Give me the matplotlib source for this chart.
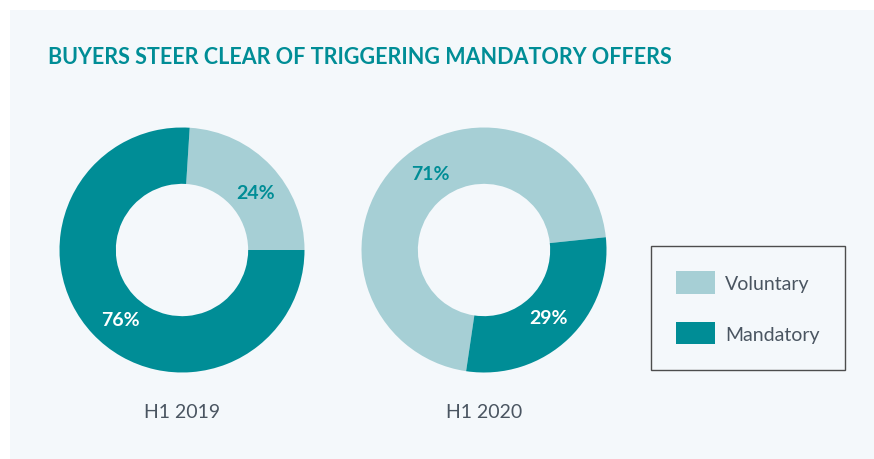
import numpy as np
import matplotlib.pyplot as plt
from matplotlib.patches import Rectangle

# --- data ---
periods = ["H1 2019", "H1 2020"]
offer_types = ["Voluntary", "Mandatory"]
voluntary = [24, 71]
mandatory = [76, 29]
start_angles = [0, 6]  # where the voluntary slice begins (degrees)

# --- style ---
teal = "#008d96"
light = "#a6cfd5"
panel = "#f4f8fb"
grey_text = "#4a5561"
# small nudges of the % labels away from the slice mid-angle (degrees)
label_nudge = [[-5, 5], [-9, 0]]
plt.rcParams["font.family"] = ["Lato", "DejaVu Sans"]

W, H = 874, 460
fig = plt.figure(figsize=(W / 100, H / 100), dpi=100)
fig.patch.set_facecolor("white")

# light background panel
fig.patches.append(Rectangle((10 / W, 0), 1 - 10 / W, 1 - 11 / H,
                             transform=fig.transFigure, facecolor=panel,
                             edgecolor="none", zorder=-5))

fig.text(48 / W, 1 - 57 / H, "BUYERS STEER CLEAR OF TRIGGERING MANDATORY OFFERS",
         color=teal, fontsize=15.5, fontweight="bold", va="center", ha="left")

centers_x = [182, 484]
center_y = 251
radius_px = 122.5
wedges_first = None

for i, period in enumerate(periods):
    cx = centers_x[i]
    ax = fig.add_axes([(cx - radius_px) / W, (H - center_y - radius_px) / H,
                       2 * radius_px / W, 2 * radius_px / H])
    ax.set_facecolor("none")
    vals = [voluntary[i], mandatory[i]]
    wedges, _ = ax.pie(vals, colors=[light, teal], startangle=start_angles[i],
                       counterclock=True, radius=1,
                       wedgeprops=dict(width=0.46, edgecolor="none"))
    if wedges_first is None:
        wedges_first = wedges
    for j, (w, v, c) in enumerate(zip(wedges, vals, [teal, "white"])):
        mid = np.deg2rad((w.theta1 + w.theta2) / 2 + label_nudge[i][j])
        ax.text(0.76 * np.cos(mid), 0.76 * np.sin(mid), f"{v}%", color=c,
                fontsize=14, fontweight="bold", ha="center", va="center")
    ax.set_xlim(-1, 1)
    ax.set_ylim(-1, 1)
    ax.set_aspect("equal")
    ax.axis("off")
    fig.text(cx / W, 1 - 412 / H, period, color=grey_text, fontsize=14,
             ha="center", va="center")

leg = fig.legend(wedges_first, offer_types, loc="upper left",
                 bbox_to_anchor=(651 / W, 1 - 247 / H),
                 frameon=True, fancybox=False, fontsize=14,
                 handlelength=2.0, handleheight=1.4, handletextpad=0.5,
                 labelspacing=1.45, borderpad=1.3, borderaxespad=0)
leg.get_frame().set_edgecolor("#222222")
leg.get_frame().set_linewidth(1.0)
leg.get_frame().set_facecolor(panel)
for t in leg.get_texts():
    t.set_color(grey_text)

fig.savefig("out.png", dpi=100, facecolor=fig.get_facecolor())
